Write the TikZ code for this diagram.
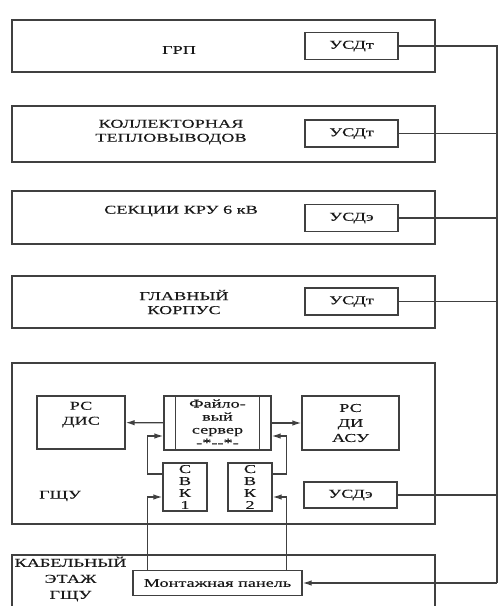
\documentclass[tikz,border=0pt]{standalone}
\usepackage{fontspec}
\setmainfont{Liberation Serif}[FakeStretch=1.52, FakeBold=0.25]
\usetikzlibrary{arrows.meta}

\tikzset{
  room/.style={draw, minimum width=423pt, inner sep=0pt},
  unit/.style={draw, inner sep=0pt, align=center},
  usd/.style={unit, minimum width=93pt, minimum height=27pt},
  txt/.style={align=center, inner sep=0pt}
}

\begin{document}
\begin{tikzpicture}[x=1pt, y=-1pt, line width=1.3pt, draw=black!75, text=black!90,
    font=\fontsize{12}{14}\selectfont, >={Latex[length=9pt,width=5.5pt]}]
    \useasboundingbox (0,0) rectangle (504,606);
    % rooms
    \node[room, minimum height=52pt] (grp) at (223.5,46) {};
    \node[room, minimum height=56pt] (koll) at (223.5,134) {};
    \node[room, minimum height=53pt] (sect) at (223.5,217.5) {};
    \node[room, minimum height=52pt] (glav) at (223.5,302) {};
    \node[room, minimum height=161pt] (gshu) at (223.5,443.5) {};
    \draw (12,606) -- (12,555) -- (435,555) -- (435,606);
    \node[txt] (grptext) at (179,50) {ГРП};
    \node[txt] (kolltext) at (171,132) {КОЛЛЕКТОРНАЯ\\ТЕПЛОВЫВОДОВ};
    \node[txt] (secttext) at (181,211) {СЕКЦИИ КРУ 6 кВ};
    \node[txt] (glavtext) at (184,302) {ГЛАВНЫЙ\\КОРПУС};
    \node[txt] (gshutext) at (60,496) {ГЩУ};
    \node[txt, font=\fontsize{12}{16}\selectfont] (cabletext) at (70.5,579) {КАБЕЛЬНЫЙ\\ЭТАЖ\\ГЩУ};
    % transmitters
    \node[usd] (usd1) at (351.5,46) {УСДт};
    \node[usd] (usd2) at (351.5,133.5) {УСДт};
    \node[usd] (usd3) at (351.5,218) {УСДэ};
    \node[usd] (usd4) at (351.5,301.5) {УСДт};
    \node[usd, minimum height=26pt] (usd5) at (350.5,495) {УСДэ};
    % control room
    \node[unit, minimum width=88pt, minimum height=53pt] (rsdis) at (81,422.5) {};
    \node[txt, font=\fontsize{12}{15}\selectfont] (rsdistext) at (81,414.5) {РС\\ДИС};
    \node[unit, minimum width=97pt, minimum height=54pt, font=\fontsize{12}{15}\selectfont] (rsasu) at (350.5,423) {РС\\ДИ\\АСУ};
    \node[unit, minimum width=107pt, minimum height=54pt, font=\fontsize{12}{13}\selectfont] (server) at (217.5,423) {Файло-\\вый\\сервер\\{-}*{-}{-}*{-}};
    \draw ([xshift=12pt]server.north west) -- ([xshift=12pt]server.south west);
    \draw ([xshift=-12pt]server.north east) -- ([xshift=-12pt]server.south east);
    \node[unit, minimum width=44pt, minimum height=48pt, font=\fontsize{12}{12}\selectfont] (svk1) at (185,487) {С\\В\\К\\1};
    \node[unit, minimum width=44pt, minimum height=48pt, font=\fontsize{12}{12}\selectfont] (svk2) at (250,487) {С\\В\\К\\2};
    \node[unit, minimum width=169pt, minimum height=25pt] (mont) at (217.5,583) {Монтажная панель};
    % bus
    \coordinate (bustop) at (497,46);
    \coordinate (busbot) at (497,583);
    \draw (usd1) -- (bustop) -- (busbot);
    \draw (usd2) -- (usd2 -| bustop);
    \draw (usd3) -- (usd3 -| bustop);
    \draw (usd4) -- (usd4 -| bustop);
    \draw (usd5) -- (usd5 -| bustop);
    \draw[->] (busbot) -- (mont);
    % links
    \draw[->] (server) -- (rsdis);
    \draw[->] (server) -- (rsasu);
    \draw[->] ([yshift=13pt]svk1.west) -- ++(-15,0) |- ([yshift=-13pt]server.west);
    \draw[->] ([yshift=13pt]svk2.east) -- ++(14,0) |- ([yshift=-13pt]server.east);
    \draw[->] ([xshift=15pt]mont.north west) |- ([yshift=-10pt]svk1.west);
    \draw[->] ([xshift=-16pt]mont.north east) |- ([yshift=-10pt]svk2.east);
\end{tikzpicture}
\end{document}
